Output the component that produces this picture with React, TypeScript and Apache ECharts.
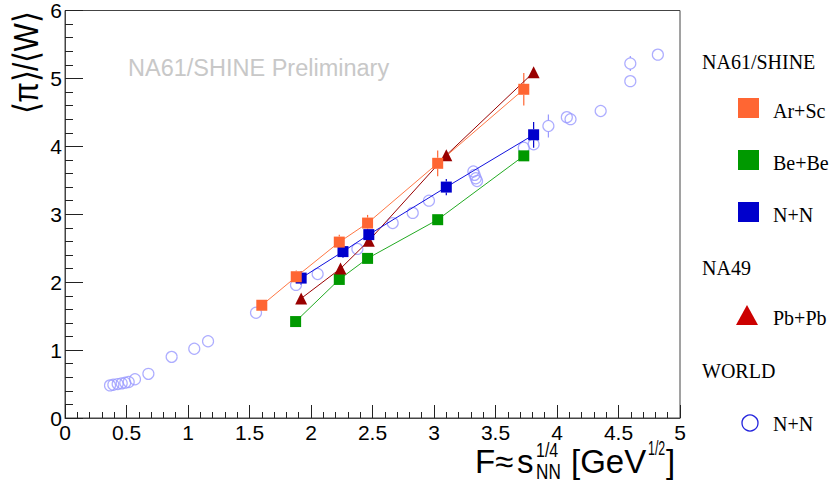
import React, { useEffect, useRef } from "react";
import * as echarts from "echarts";

// NA61/SHINE Ar+Sc
const arScX = [1.6, 1.88, 2.23, 2.46, 3.03, 3.73];
const arScY = [1.66, 2.08, 2.59, 2.87, 3.75, 4.84];
const arScErr = [0.05, 0.09, 0.11, 0.12, 0.19, 0.24];
// NA61/SHINE Be+Be
const beBeX = [1.875, 2.23, 2.46, 3.03, 3.73];
const beBeY = [1.42, 2.04, 2.35, 2.92, 3.86];
const beBeErr = [0.04, 0.05, 0.05, 0.06, 0.08];
// NA61/SHINE N+N
const nnX = [1.92, 2.26, 2.47, 3.1, 3.81];
const nnY = [2.06, 2.45, 2.7, 3.4, 4.17];
const nnErr = [0.1, 0.09, 0.08, 0.12, 0.19];
// NA49 Pb+Pb
const pbX = [1.92, 2.24, 2.47, 3.1, 3.81];
const pbY = [1.76, 2.2, 2.61, 3.87, 5.09];
const pbErr = [0.03, 0.03, 0.04, 0.05, 0.06];
// WORLD N+N
const worldX = [0.366, 0.393, 0.428, 0.461, 0.49, 0.518, 0.569, 0.678, 0.867, 1.051, 1.163, 1.553, 1.878, 2.054, 2.377, 2.664, 2.827, 2.959, 3.32, 3.33, 3.34, 3.35, 3.73, 3.81, 3.93, 4.08, 4.11, 4.355, 4.596, 4.596, 4.82];
const worldY = [0.48, 0.49, 0.5, 0.51, 0.52, 0.53, 0.57, 0.65, 0.9, 1.02, 1.13, 1.55, 1.96, 2.12, 2.49, 2.87, 3.02, 3.2, 3.63, 3.58, 3.53, 3.49, 3.98, 4.03, 4.3, 4.43, 4.4, 4.52, 4.96, 5.22, 5.35];
const worldErr = [0, 0, 0, 0, 0, 0, 0, 0, 0, 0, 0, 0, 0, 0, 0, 0, 0, 0, 0, 0, 0, 0, 0, 0, 0.17, 0, 0, 0, 0, 0.11, 0];

const xTicks = [0, 0.5, 1, 1.5, 2, 2.5, 3, 3.5, 4, 4.5, 5];
const yTicks = [0, 1, 2, 3, 4, 5, 6];

const SANS = "Liberation Sans, Helvetica, Arial, sans-serif";
const SERIF = "Liberation Serif, Times New Roman, serif";

function pts(xs: number[], ys: number[]) {
  return xs.map((x, i) => [x, ys[i]]);
}

function errorSeries(xs: number[], ys: number[], es: number[], color: string, gap: number) {
  return {
    type: "custom",
    silent: true,
    z: 1,
    dimensions: ["x", "y", "e"],
    encode: { x: 0, y: 1 },
    data: xs.map((x, i) => [x, ys[i], es[i]]),
    renderItem: (params: any, api: any) => {
      const x = api.value(0);
      const y = api.value(1);
      const e = api.value(2);
      const top = api.coord([x, y + e]);
      const mid = api.coord([x, y]);
      const bot = api.coord([x, y - e]);
      const children: any[] = [];
      if (mid[1] - top[1] > gap) {
        children.push({
          type: "line",
          shape: { x1: top[0], y1: top[1], x2: mid[0], y2: mid[1] - gap },
          style: { stroke: color, lineWidth: 1.2 },
        });
      }
      if (bot[1] - mid[1] > gap) {
        children.push({
          type: "line",
          shape: { x1: mid[0], y1: mid[1] + gap, x2: bot[0], y2: bot[1] },
          style: { stroke: color, lineWidth: 1.2 },
        });
      }
      return { type: "group", children };
    },
  };
}

export default function App() {
  const ref = useRef<HTMLDivElement>(null);
  useEffect(() => {
    if (!ref.current) return;
    const chart = echarts.init(ref.current, undefined, { renderer: "svg" });
    const legendText = (text: string, x: number, y: number) => ({
      type: "text",
      x,
      y,
      style: { text, font: `20px ${SERIF}`, fill: "#000", verticalAlign: "middle", align: "left" },
    });
    const t = (text: string, x: number, y: number, size: number, scaleX = 1) => ({
      type: "text",
      x,
      y,
      scaleX,
      style: { text, font: `${size}px ${SANS}`, fill: "#000", verticalAlign: "middle", align: "left" },
    });
    chart.setOption({
      animation: false,
      backgroundColor: "#fff",
      grid: { left: 65, right: 154, top: 8, bottom: 76, show: true, borderColor: "#444", borderWidth: 1 },
      xAxis: {
        type: "value",
        min: 0,
        max: 5,
        interval: 0.5,
        axisLine: { show: true, lineStyle: { color: "#444", width: 1 } },
        axisTick: { show: true, inside: true, length: 13, lineStyle: { color: "#222" } },
        minorTick: { show: true, splitNumber: 5, length: 6, lineStyle: { color: "#222" } },
        splitLine: { show: false },
        axisLabel: {
          fontSize: 21,
          fontFamily: SANS,
          color: "#000",
          margin: 4,
          formatter: (v: number) => (xTicks.includes(v) ? String(v) : ""),
        },
      },
      yAxis: {
        type: "value",
        min: 0,
        max: 6,
        interval: 1,
        axisLine: { show: true, lineStyle: { color: "#444", width: 1 } },
        axisTick: { show: true, inside: true, length: 18, lineStyle: { color: "#222" } },
        minorTick: { show: true, splitNumber: 5, length: 8, lineStyle: { color: "#222" } },
        splitLine: { show: false },
        axisLabel: {
          fontSize: 21,
          fontFamily: SANS,
          color: "#000",
          margin: 3,
          formatter: (v: number) => (yTicks.includes(v) ? String(v) : ""),
        },
      },
      series: [
        errorSeries(worldX, worldY, worldErr, "#9999ff", 5.5),
        {
          type: "scatter",
          name: "WORLD N+N",
          data: pts(worldX, worldY),
          symbol: "circle",
          symbolSize: 11,
          itemStyle: { color: "rgba(0,0,0,0)", borderColor: "#9999ff", borderWidth: 1.2 },
          z: 2,
        },
        errorSeries(beBeX, beBeY, beBeErr, "#009900", 5.5),
        {
          type: "line",
          name: "Be+Be",
          data: pts(beBeX, beBeY),
          symbol: "rect",
          symbolSize: 11,
          itemStyle: { color: "#009900" },
          lineStyle: { color: "#22aa22", width: 1 },
          z: 3,
        },
        errorSeries(pbX, pbY, pbErr, "#990000", 6),
        {
          type: "line",
          name: "Pb+Pb",
          data: pts(pbX, pbY),
          symbol: "triangle",
          symbolSize: 12,
          itemStyle: { color: "#990000" },
          lineStyle: { color: "#990000", width: 1 },
          z: 3,
        },
        errorSeries(nnX, nnY, nnErr, "#0000cc", 5.5),
        {
          type: "line",
          name: "N+N",
          data: pts(nnX, nnY),
          symbol: "rect",
          symbolSize: 11,
          itemStyle: { color: "#0000cc" },
          lineStyle: { color: "#1111dd", width: 1 },
          z: 3,
        },
        errorSeries(arScX, arScY, arScErr, "#ff6633", 5.5),
        {
          type: "line",
          name: "Ar+Sc",
          data: pts(arScX, arScY),
          symbol: "rect",
          symbolSize: 11,
          itemStyle: { color: "#ff6633" },
          lineStyle: { color: "#ff7744", width: 1 },
          z: 3,
        },
      ],
      graphic: [
        {
          type: "text",
          x: 128,
          y: 68,
          style: { text: "NA61/SHINE Preliminary", font: `23.5px ${SANS}`, fill: "#c8c8c8", verticalAlign: "middle" },
          z: 0,
        },
        {
          type: "text",
          x: 44,
          y: 12,
          rotation: Math.PI / 2,
          scaleY: 1.15,
          style: { text: "⟨π⟩/⟨W⟩", font: `30px ${SANS}`, fill: "#000", align: "right", verticalAlign: "bottom" },
        },
        t("F≈", 475, 461, 33),
        t("s", 517, 461, 33),
        t("1/4", 536, 450.5, 20, 0.8),
        t("NN", 536, 471, 22, 0.78),
        t("[GeV", 571, 461, 33),
        t("1/2", 648, 448.5, 20, 0.62),
        t("]", 666, 461, 33),
        // legend
        legendText("NA61/SHINE", 702, 62),
        { type: "rect", shape: { x: 738, y: 98, width: 21, height: 20 }, style: { fill: "#ff6633" } },
        legendText("Ar+Sc", 773, 111),
        { type: "rect", shape: { x: 738, y: 150, width: 21, height: 20 }, style: { fill: "#009900" } },
        legendText("Be+Be", 773, 163),
        { type: "rect", shape: { x: 738, y: 202, width: 21, height: 20 }, style: { fill: "#0000cc" } },
        legendText("N+N", 773, 215),
        legendText("NA49", 702, 268),
        { type: "polygon", shape: { points: [[747, 305], [758, 325], [736, 325]] }, style: { fill: "#cc0000" } },
        legendText("Pb+Pb", 773, 318),
        legendText("WORLD", 702, 371),
        { type: "circle", shape: { cx: 750, cy: 423, r: 8 }, style: { fill: "none", stroke: "#2222dd", lineWidth: 1.3 } },
        legendText("N+N", 773, 424),
      ],
    });
    return () => chart.dispose();
  }, []);
  return <div ref={ref} style={{ position: "fixed", left: 0, top: 0, width: 834, height: 494 }} />;
}
